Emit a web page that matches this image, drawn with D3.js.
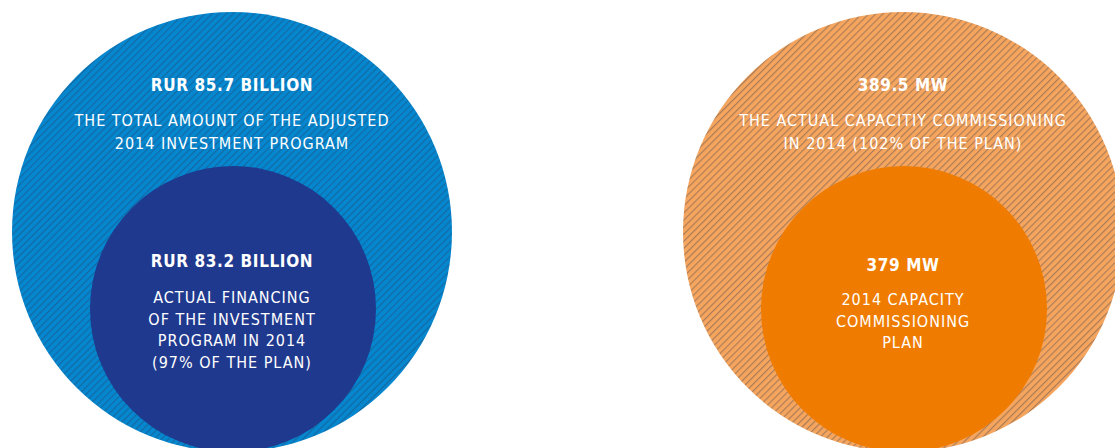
<!DOCTYPE html>
<meta charset="utf-8">
<script src="https://d3js.org/d3.v7.min.js"></script>
<style>
  body { margin: 0; background: #ffffff; }
  text { font-family: "DejaVu Sans Condensed", "DejaVu Sans", sans-serif; fill: #ffffff; text-anchor: middle; }
  .head { font-weight: bold; font-size: 17px; letter-spacing: 0.6px; }
  .body { font-size: 16px; letter-spacing: 1px; }
</style>
<div id="chart"></div>
<script>

// data
var groups = ["investment", "capacity"];
var outerValues = ["RUR 85.7 BILLION", "389.5 MW"];
var outerLabels = [
  ["THE TOTAL AMOUNT OF THE ADJUSTED", "2014 INVESTMENT PROGRAM"],
  ["THE ACTUAL CAPACITIY COMMISSIONING", "IN 2014 (102% OF THE PLAN)"]
];
var innerValues = ["RUR 83.2 BILLION", "379 MW"];
var innerLabels = [
  ["ACTUAL FINANCING", "OF THE INVESTMENT", "PROGRAM IN 2014", "(97% OF THE PLAN)"],
  ["2014 CAPACITY", "COMMISSIONING", "PLAN"]
];

var width = 1115, height = 448;
var outerColor = ["#0587d0", "#f5a55e"];
var hatchColor = ["#13679f", "#a87a55"];
var innerColor = ["#1f398e", "#ef7c00"];

var svg = d3.select("#chart")
  .append("svg")
    .attr("width", width)
    .attr("height", height);

// diagonal hatch for the outer circles
var defs = svg.append("defs");
groups.forEach(function(g, i) {
  var p = defs.append("pattern")
    .attr("id", "hatch-" + g)
    .attr("patternUnits", "userSpaceOnUse")
    .attr("width", 5)
    .attr("height", 5)
    .attr("patternTransform", "rotate(45)");
  p.append("rect").attr("width", 5).attr("height", 5).attr("fill", outerColor[i]);
  p.append("line")
    .attr("x1", 0.6).attr("y1", 0).attr("x2", 0.6).attr("y2", 5)
    .attr("stroke", hatchColor[i])
    .attr("stroke-width", 1.1);
});

// x position of each group
var x = d3.scalePoint()
  .domain(groups)
  .range([232, 903]);

var outerR = 220, innerR = 143;
var outerCy = 232, innerCy = 309;

var g = svg.selectAll("g.group")
  .data(groups)
  .enter()
  .append("g")
    .attr("class", "group")
    .attr("transform", function(d) { return "translate(" + x(d) + ",0)"; });

g.append("circle")
  .attr("cx", 0)
  .attr("cy", outerCy)
  .attr("r", outerR)
  .attr("fill", function(d) { return "url(#hatch-" + d + ")"; });

g.append("circle")
  .attr("cx", 1)
  .attr("cy", innerCy)
  .attr("r", innerR)
  .attr("fill", function(d, i) { return innerColor[i]; });

g.append("text")
  .attr("class", "head")
  .attr("y", 91)
  .text(function(d, i) { return outerValues[i]; });

g.each(function(d, i) {
  var sel = d3.select(this);
  outerLabels[i].forEach(function(t, j) {
    sel.append("text").attr("class", "body").attr("y", 126 + j * 23).text(t);
  });
  sel.append("text")
    .attr("class", "head")
    .attr("y", i === 0 ? 267 : 271)
    .text(innerValues[i]);
  innerLabels[i].forEach(function(t, j) {
    sel.append("text").attr("class", "body")
      .attr("y", (i === 0 ? 303 : 305) + j * 21.7).text(t);
  });
});

</script>
